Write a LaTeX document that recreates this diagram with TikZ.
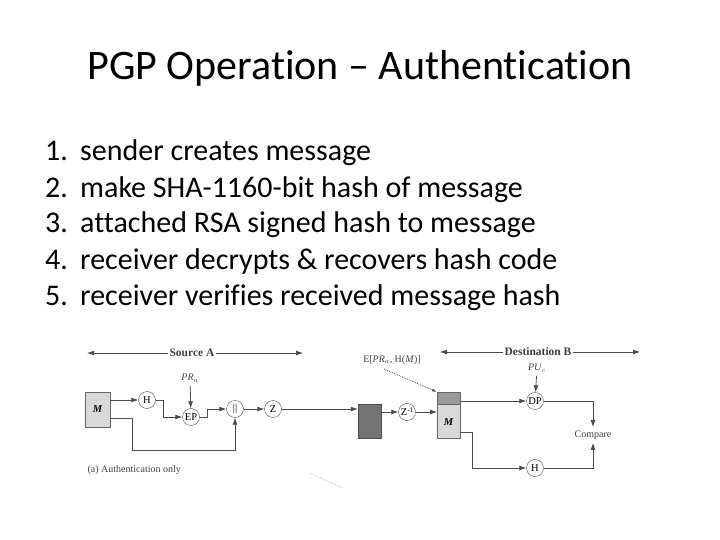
\documentclass[tikz,border=0pt]{standalone}
\usepackage{fontspec}
\setmainfont[Ligatures=NoCommon]{Carlito}
\newfontfamily\tms{Liberation Serif}
\usetikzlibrary{arrows.meta}
\begin{document}
\begin{tikzpicture}[x=1pt,y=-1pt,
  circ/.style={draw=black!70,circle,inner sep=0pt,minimum size=17pt,font=\tms\fontsize{10.5}{10}\selectfont},
  ln/.style={draw=black!70,line width=0.8pt},
  ar/.style={ln,-{Latex[length=7pt,width=5pt]}},
  lbl/.style={font=\tms\fontsize{10}{10}\selectfont,text=black!75},
  item/.style={anchor=base west,font=\fontsize{30}{32}\selectfont,inner sep=0pt}]
\useasboundingbox (0,0) rectangle (720,540);
\node (title) at (360,68) {\fontsize{42}{44}\selectfont PGP Operation – Authentication};
\foreach \n/\t [count=\i] in {1/sender creates message,2/make SHA-1160-bit hash of message,3/attached RSA signed hash to message,4/receiver decrypts \& recovers hash code,5/receiver verifies received message hash}{
  \node[item] (n\i) at (45,161+36*\i-36) {\n.};
  \node[item] (t\i) at (80,161+36*\i-36) {\t};
}
% source
\node[font=\tms\bfseries\fontsize{11.5}{11}\selectfont,text=black!75,fill=white,inner sep=1pt] (srcA) at (192,353) {Source A};
\coordinate (sa1) at (87,353); \coordinate (sa2) at (303,353);
\draw[ar] (srcA) -- (sa1); \draw[ar] (srcA) -- (sa2);
\node[draw=black!60,fill=black!15,minimum width=25pt,minimum height=35pt,inner sep=0pt,font=\tms\bfseries\itshape\fontsize{10.5}{10}\selectfont] (M) at (97.5,409.5) {M};
\node[circ] (H1) at (147,400) {H};
\node[circ] (EP) at (191,417) {EP};
\node[circ] (cc) at (235,409) {\textbar\textbar};
\node[circ] (Z) at (273,409) {Z};
\node[lbl] (PRa) at (190,378) {\textit{PR}$_a$};
\node[draw=black!70,fill=black!55,minimum width=23pt,minimum height=34pt,inner sep=0pt] (G) at (369.5,421) {};
\node[circ] (Zi) at (407,412) {Z\raisebox{0.6ex}{\scriptsize -1}};
\node[draw=black!60,fill=black!15,minimum width=23pt,minimum height=46pt,inner sep=0pt,anchor=north west] (R) at (437,392) {};
\node[draw=black!60,fill=black!40,minimum width=23pt,minimum height=12pt,inner sep=0pt,anchor=north west] (Rt) at (437,392) {};
\node[font=\tms\bfseries\itshape\fontsize{10.5}{10}\selectfont] (RM) at (448.5,422) {M};
\node[lbl] (E) at (392,360) {E[\textit{PR}$_a$, H(\textit{M})]};
\coordinate (e1) at (384,369);
\draw[ln,densely dotted,-{Latex[length=5pt,width=3pt]}] (e1) -- (R.north west);
\node[font=\tms\bfseries\fontsize{11.5}{11}\selectfont,text=black!75,fill=white,inner sep=1pt] (dstB) at (538,352) {Destination B};
\coordinate (db1) at (440,352); \coordinate (db2) at (640,352);
\draw[ar] (dstB) -- (db1); \draw[ar] (dstB) -- (db2);
\node[lbl] (PUc) at (537,368) {\textit{PU}$_c$};
\node[circ] (DP) at (535,401) {DP};
\node[lbl] (cmp) at (593,435) {Compare};
\node[circ] (H2) at (535,468) {H};
\node[lbl,anchor=west] (cap) at (84,470) {(a) Authentication only};
\coordinate (d1) at (310,473); \coordinate (d2) at (343,488);
\draw[densely dotted,black!60] (d1) -- (d2);
% connectors
\draw[ar] (M.east|-H1) -- (H1);
\draw[ar] (H1.east) -- ++(8,0) |- (EP.west);
\draw[ar] (PRa) -- (EP);
\draw[ar] (EP.east) -- ++(8,0) |- (cc.west);
\draw[ar] (M.east|-0,418) -- (132,418) |- (235,450) -- (cc.south);
\draw[ar] (cc) -- (Z);
\draw[ar] (Z) -- (G.west|-Z);
\draw[ar] (G.east|-Zi) -- (Zi);
\draw[ar] (Zi) -- (R.west|-Zi);
\draw[ar] (R.east|-DP) -- (DP);
\draw[ar] (PUc) -- (DP);
\draw[ar] (DP.east) -| (cmp.north);
\draw[ar] (R.east|-0,432) -- (472,432) |- (H2.west);
\draw[ar] (H2.east) -| (cmp.south);
\end{tikzpicture}
\end{document}
